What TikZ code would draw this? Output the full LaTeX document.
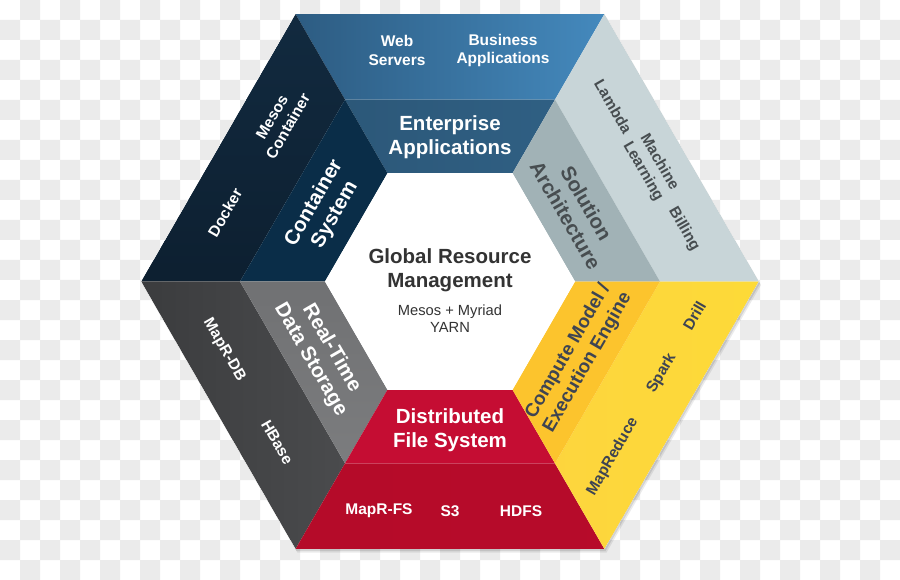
\documentclass[tikz,border=0pt]{standalone}
\usepackage{fontspec}
\setmainfont{Liberation Sans}
\begin{document}
\begin{tikzpicture}[x=1pt,y=-1pt,
  item/.style={font=\bfseries\fontsize{15.5}{18.5}\selectfont, align=center, inner sep=0pt, text=white},
  lab/.style={font=\bfseries\fontsize{20.5}{24}\selectfont, align=center, inner sep=0pt, text=white},
  darkA/.style={text=textA},
  darkB/.style={text=textB}]
\definecolor{chk}{HTML}{EBEBEB}
\definecolor{topOutL}{HTML}{2D5C82}
\definecolor{topOutR}{HTML}{4489BD}
\definecolor{topIn}{HTML}{2C5879}
\definecolor{ulOut}{HTML}{0F2539}
\definecolor{ulIn}{HTML}{0A2D48}
\definecolor{llOutA}{HTML}{3B3C3E}
\definecolor{llOutB}{HTML}{4A4B4D}
\definecolor{llIn}{HTML}{707173}
\definecolor{btOut}{HTML}{B50B29}
\definecolor{btIn}{HTML}{C50D33}
\definecolor{lrOut}{HTML}{FDD63E}
\definecolor{lrIn}{HTML}{FCC42D}
\definecolor{urOut}{HTML}{C8D5D8}
\definecolor{urIn}{HTML}{A1B2B6}
\definecolor{textA}{HTML}{474D50}
\definecolor{textB}{HTML}{3E4452}
\definecolor{textC}{HTML}{333333}
\useasboundingbox (0,0) rectangle (900,580);
% vertices
\coordinate (O1) at (759,281.5);
\coordinate (O2) at (604.5,13.9);
\coordinate (O3) at (295.5,13.9);
\coordinate (O4) at (141,281.5);
\coordinate (O5) at (295.5,549.1);
\coordinate (O6) at (604.5,549.1);
\coordinate (M1) at (660,281.5);
\coordinate (M2) at (555,99.6);
\coordinate (M3) at (345,99.6);
\coordinate (M4) at (240,281.5);
\coordinate (M5) at (345,463.4);
\coordinate (M6) at (555,463.4);
\coordinate (I1) at (575,281.5);
\coordinate (I2) at (512.5,173.25);
\coordinate (I3) at (387.5,173.25);
\coordinate (I4) at (325,281.5);
\coordinate (I5) at (387.5,389.75);
\coordinate (I6) at (512.5,389.75);
% top sector
\path[left color=topOutL, right color=topOutR] (O3) -- (O2) -- (M2) -- (M3) -- cycle;
\path[left color=topIn, right color=topIn!85!topOutR] (M3) -- (M2) -- (I2) -- (I3) -- cycle;
% upper-left sector
\path[bottom color=ulOut!85!black, top color=ulOut!90!topIn] (O4) -- (O3) -- (M3) -- (M4) -- cycle;
\fill[ulIn] (M4) -- (M3) -- (I3) -- (I4) -- cycle;
% lower-left sector
\path[left color=llOutA, right color=llOutB] (O5) -- (O4) -- (M4) -- (M5) -- cycle;
\path[top color=llIn, bottom color=llIn!92!white] (M5) -- (M4) -- (I4) -- (I5) -- cycle;
% bottom sector
\path[left color=btOut, right color=btOut!90!btIn] (O6) -- (O5) -- (M5) -- (M6) -- cycle;
\fill[btIn] (M6) -- (M5) -- (I5) -- (I6) -- cycle;
% lower-right sector
\path[left color=lrOut!96!lrIn, right color=lrOut!90!yellow] (O1) -- (O6) -- (M6) -- (M1) -- cycle;
\fill[lrIn] (M1) -- (M6) -- (I6) -- (I1) -- cycle;
% upper-right sector
\fill[urOut] (O2) -- (O1) -- (M1) -- (M2) -- cycle;
\fill[urIn] (M2) -- (M1) -- (I1) -- (I2) -- cycle;
% centre
\fill[white] (I1) -- (I2) -- (I3) -- (I4) -- (I5) -- (I6) -- cycle;
% background outside the hexagon: checkerboard and soft shadow
\begin{scope}[even odd rule]
\clip (-5,-5) rectangle (905,585) (O1) -- (O2) -- (O3) -- (O4) -- (O5) -- (O6) -- cycle;
\fill[white] (0,0) rectangle (900,580);
\fill[chk] \foreach \jj in {0,2,...,28}{ \foreach \ii in {1,3,...,43}{ (20*\ii,20*\jj) rectangle +(20,20) } };
\fill[chk] \foreach \jj in {1,3,...,27}{ \foreach \ii in {0,2,...,44}{ (20*\ii,20*\jj) rectangle +(20,20) } };
\fill[black,opacity=0.10] ([shift={(1,2)}]O1) -- ([shift={(1,2)}]O2) -- ([shift={(1,2)}]O3) -- ([shift={(1,2)}]O4) -- ([shift={(1,2)}]O5) -- ([shift={(1,2)}]O6) -- cycle;
\fill[black,opacity=0.08] ([shift={(2,3.5)}]O1) -- ([shift={(2,3.5)}]O2) -- ([shift={(2,3.5)}]O3) -- ([shift={(2,3.5)}]O4) -- ([shift={(2,3.5)}]O5) -- ([shift={(2,3.5)}]O6) -- cycle;
\end{scope}

% texts: top
\node[item] (web) at (397,50.5) {Web\\Servers};
\node[item] (bus) at (503,50.5) {Business\\Applications};
\node[lab] (ent) at (450,137) {Enterprise\\Applications};
% upper-left
\node[item, rotate=60] (mesos) at (280,121.5) {Mesos\\Container};
\node[item, rotate=60] (docker) at (225,212.5) {Docker};
\node[lab, rotate=60] (cont) at (324.5,209) {Container\\System};
% lower-left
\node[item, rotate=-60] (maprdb) at (224,350) {MapR-DB};
\node[item, rotate=-60] (hbase) at (277.3,442.4) {HBase};
\node[lab, rotate=-60] (rts) at (321,354) {Real-Time\\Data Storage};
% bottom
\node[lab] (dfs) at (450,430) {Distributed\\File System};
\node[item] (maprfs) at (379,511) {MapR-FS};
\node[item] (s3) at (450,511) {S3};
\node[item] (hdfs) at (521,511) {HDFS};
% lower-right
\node[lab, darkB, rotate=60, font=\bfseries\fontsize{18.8}{22.5}\selectfont] (comp) at (578,357) {Compute Model /\\Execution Engine};
\node[item, darkB, rotate=60] (drill) at (694.3,315.7) {Drill};
\node[item, darkB, rotate=60] (spark) at (661.7,373.3) {Spark};
\node[item, darkB, rotate=60] (mapred) at (612.7,456.7) {MapReduce};
% upper-right
\node[lab, darkA, rotate=-60] (sol) at (576,209) {Solution\\Architecture};
\node[item, darkA, rotate=-60] (lambda) at (613.3,106.7) {Lambda};
\node[item, darkA, rotate=-60] (ml) at (651,167) {Machine\\Learning};
\node[item, darkA, rotate=-60] (bill) at (684,229.3) {Billing};
% centre
\node[lab, text=textC] (grm) at (450,270) {Global Resource\\Management};
\node[font=\fontsize{14.7}{17.5}\selectfont, align=center, inner sep=0pt, text=textC] (mm) at (450,318.5) {Mesos + Myriad\\YARN};
\end{tikzpicture}
\end{document}
